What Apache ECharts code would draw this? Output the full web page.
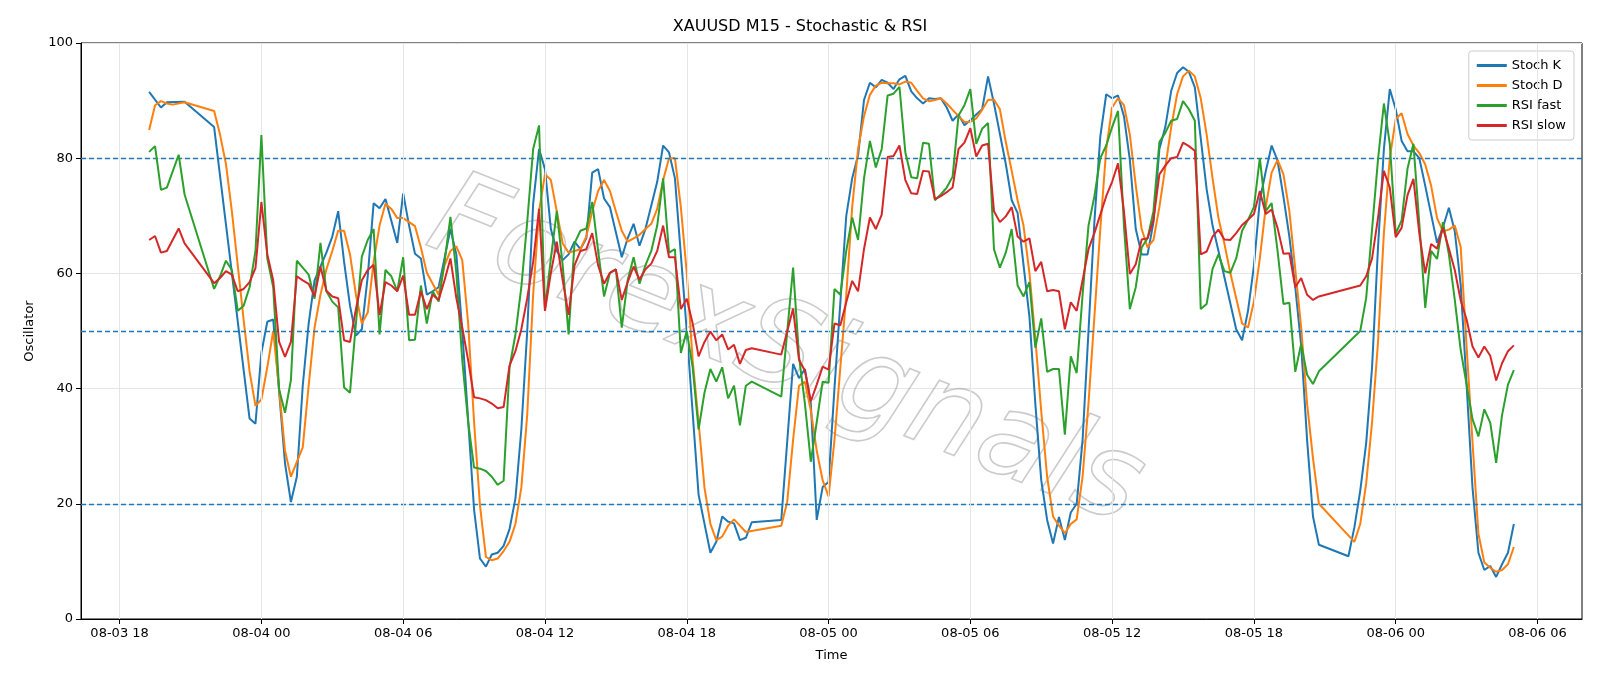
<!DOCTYPE html>
<html><head><meta charset="utf-8">
<script src="https://cdn.jsdelivr.net/npm/echarts@6/dist/echarts.min.js"></script>
<style>html,body{margin:0;padding:0;background:#fff}#c{width:1600px;height:686px}</style>
</head><body><div id="c"></div>
<script>
const YEAR = '2025';
const seriesNames = ['Stoch K','Stoch D','RSI fast','RSI slow'];
const levelLines = [20, 50, 80];
const xTicks = ['08-03 18:00','08-04 00:00','08-04 06:00','08-04 12:00','08-04 18:00','08-05 00:00','08-05 06:00','08-05 12:00','08-05 18:00','08-06 00:00','08-06 06:00'];
const stochK = [
['08-03 19:15',91.5],['08-03 19:45',88.8],['08-03 20:00',89.7],['08-03 20:45',89.8],['08-03 22:00',85.4],['08-03 23:30',34.8],['08-03 23:45',33.9],
['08-04 00:00',46.2],['08-04 00:15',51.6],['08-04 00:30',52],['08-04 01:00',27],['08-04 01:15',20.3],['08-04 01:30',24.7],['08-04 01:45',40.5],['08-04 02:00',51.3],['08-04 02:15',58.8],['08-04 02:45',63.6],['08-04 03:00',66.4],['08-04 03:15',70.8],['08-04 03:30',62],['08-04 03:45',54.4],['08-04 04:00',49.2],['08-04 04:15',50.3],['08-04 04:30',59.5],['08-04 04:45',72.2],['08-04 05:00',71.3],['08-04 05:15',72.9],['08-04 05:45',65.3],['08-04 06:00',73.9],['08-04 06:15',68.3],['08-04 06:30',63.4],['08-04 06:45',62.6],['08-04 07:00',56.3],['08-04 07:15',56.9],['08-04 07:30',57.6],['08-04 08:00',67.7],['08-04 08:15',63.3],['08-04 08:30',50],['08-04 09:00',19],['08-04 09:15',10.5],['08-04 09:30',9.1],['08-04 09:45',11.2],['08-04 10:00',11.5],['08-04 10:15',12.7],['08-04 10:30',15.6],['08-04 10:45',20.9],['08-04 11:00',32.9],['08-04 11:15',50],['08-04 11:30',72.1],['08-04 11:45',81.6],['08-04 12:00',78.1],['08-04 12:15',67.7],['08-04 12:30',63.9],['08-04 12:45',62.3],['08-04 13:00',63.3],['08-04 13:15',65.5],['08-04 13:30',64.2],['08-04 13:45',66.1],['08-04 14:00',77.5],['08-04 14:15',78.1],['08-04 14:30',73],['08-04 14:45',71.5],['08-04 15:15',62.8],['08-04 15:30',66.1],['08-04 15:45',68.6],['08-04 16:00',64.8],['08-04 16:15',67.7],['08-04 16:30',71.8],['08-04 16:45',75.9],['08-04 17:00',82.2],['08-04 17:15',81],['08-04 17:30',76.5],['08-04 18:00',50],['08-04 18:30',21.6],['08-04 19:00',11.5],['08-04 19:15',13.4],['08-04 19:30',17.8],['08-04 19:45',16.9],['08-04 20:00',16.6],['08-04 20:15',13.7],['08-04 20:30',14.1],['08-04 20:45',16.8],['08-04 22:00',17.2],['08-04 22:30',44.3],['08-04 22:45',41.8],['08-04 23:00',43.4],['08-04 23:15',37.4],['08-04 23:30',17.2],['08-04 23:45',22.9],
['08-05 00:00',23.8],['08-05 00:15',40],['08-05 00:30',55],['08-05 00:45',70],['08-05 01:00',76.5],['08-05 01:15',80.5],['08-05 01:30',90.1],['08-05 01:45',93.1],['08-05 02:00',92.3],['08-05 02:15',93.6],['08-05 02:30',93.1],['08-05 02:45',92],['08-05 03:00',93.7],['08-05 03:15',94.3],['08-05 03:30',91.6],['08-05 03:45',90.4],['08-05 04:00',89.5],['08-05 04:15',90.4],['08-05 04:30',90.3],['08-05 04:45',90.4],['08-05 05:00',88.8],['08-05 05:15',86.5],['08-05 05:30',87.6],['08-05 05:45',85.7],['08-05 06:00',86.6],['08-05 06:15',87.6],['08-05 06:30',88.5],['08-05 06:45',94.2],['08-05 07:00',89.5],['08-05 07:30',79],['08-05 07:45',72.7],['08-05 08:00',70.5],['08-05 08:30',52.5],['08-05 08:45',37.4],['08-05 09:00',24.1],['08-05 09:15',17.2],['08-05 09:30',13.1],['08-05 09:45',17.7],['08-05 10:00',13.7],['08-05 10:15',18.5],['08-05 10:30',20],['08-05 10:45',31.1],['08-05 11:00',50],['08-05 11:15',69],['08-05 11:30',83.8],['08-05 11:45',91.1],['08-05 12:00',90.4],['08-05 12:15',90.9],['08-05 12:30',87.3],['08-05 12:45',79.7],['08-05 13:00',67.7],['08-05 13:15',63.3],['08-05 13:30',63.3],['08-05 13:45',68.9],['08-05 14:00',81.6],['08-05 14:15',85.4],['08-05 14:30',91.7],['08-05 14:45',94.8],['08-05 15:00',95.8],['08-05 15:15',95],['08-05 15:30',92.3],['08-05 16:00',74.6],['08-05 16:15',68.3],['08-05 16:30',63.9],['08-05 17:15',50.3],['08-05 17:30',48.4],['08-05 17:45',53.5],['08-05 18:00',61.3],['08-05 18:15',72.7],['08-05 18:30',77.7],['08-05 18:45',82.2],['08-05 19:00',79.6],['08-05 19:15',73.3],['08-05 19:30',66.4],['08-05 19:45',57.6],['08-05 20:00',47.5],['08-05 20:15',31.1],['08-05 20:30',17.8],['08-05 20:45',12.9],['08-05 22:00',10.9],['08-05 22:15',15.9],['08-05 22:30',22.3],['08-05 22:45',30.5],['08-05 23:00',43.7],['08-05 23:15',64.5],['08-05 23:30',81.6],['08-05 23:45',92],
['08-06 00:00',88.5],['08-06 00:15',83],['08-06 00:30',81.2],['08-06 00:45',81.2],['08-06 01:00',80],['08-06 01:15',75.2],['08-06 01:30',70.2],['08-06 01:45',65.3],['08-06 02:00',68],['08-06 02:15',71.4],['08-06 02:30',67.3],['08-06 02:45',58],['08-06 03:00',40.7],['08-06 03:15',22.8],['08-06 03:30',11.5],['08-06 03:45',8.5],['08-06 04:00',9.2],['08-06 04:15',7.3],['08-06 04:30',9.5],['08-06 04:45',11.5],['08-06 05:00',16.5]];
const stochD = [
['08-03 19:15',84.9],['08-03 19:30',89.2],['08-03 19:45',89.9],['08-03 20:00',89.5],['08-03 20:15',89.3],['08-03 20:45',89.7],['08-03 22:00',88.2],['08-03 22:15',84.1],['08-03 22:30',79],['08-03 22:45',70.8],['08-03 23:00',61.4],['08-03 23:15',51.9],['08-03 23:30',43],['08-03 23:45',37],
['08-04 00:00',38.1],['08-04 00:15',43.7],['08-04 00:30',50],['08-04 00:45',39.9],['08-04 01:00',29.2],['08-04 01:15',24.7],['08-04 01:45',29.8],['08-04 02:00',40.5],['08-04 02:15',50.6],['08-04 02:30',56.3],['08-04 02:45',60.7],['08-04 03:00',63.9],['08-04 03:15',67.4],['08-04 03:30',67.4],['08-04 03:45',63.3],['08-04 04:00',56.3],['08-04 04:15',51.3],['08-04 04:30',53.2],['08-04 04:45',62],['08-04 05:00',68.3],['08-04 05:15',72.1],['08-04 05:30',71.2],['08-04 05:45',69.6],['08-04 06:00',69.6],['08-04 06:15',68.9],['08-04 06:30',68.2],['08-04 06:45',64.5],['08-04 07:00',60.1],['08-04 07:15',58.2],['08-04 07:30',56.3],['08-04 07:45',61.4],['08-04 08:00',63.9],['08-04 08:15',64.7],['08-04 08:30',62.3],['08-04 08:45',51.3],['08-04 09:00',34.2],['08-04 09:15',19.7],['08-04 09:30',10.8],['08-04 09:45',10.2],['08-04 10:00',10.5],['08-04 10:15',11.8],['08-04 10:30',13.4],['08-04 10:45',16.5],['08-04 11:00',22.8],['08-04 11:15',35.5],['08-04 11:30',56.3],['08-04 11:45',70.8],['08-04 12:00',77.2],['08-04 12:15',76.2],['08-04 12:30',70.8],['08-04 12:45',65.2],['08-04 13:00',63.6],['08-04 13:15',63.9],['08-04 13:30',64.2],['08-04 13:45',66.4],['08-04 14:00',70.8],['08-04 14:15',74.3],['08-04 14:30',76.2],['08-04 14:45',74.3],['08-04 15:00',70.8],['08-04 15:15',67.4],['08-04 15:30',65.5],['08-04 15:45',66.1],['08-04 16:00',66.7],['08-04 16:15',67.7],['08-04 16:30',68.6],['08-04 16:45',71.2],['08-04 17:00',76.2],['08-04 17:15',80],['08-04 17:30',80],['08-04 17:45',71.5],['08-04 18:00',60.1],['08-04 18:15',44.9],['08-04 18:30',34.2],['08-04 18:45',22.8],['08-04 19:00',16.5],['08-04 19:15',13.7],['08-04 19:30',14.3],['08-04 19:45',16.2],['08-04 20:00',17.3],['08-04 20:15',16.2],['08-04 20:30',15.1],['08-04 22:00',16.2],['08-04 22:15',20.3],['08-04 22:30',31.1],['08-04 22:45',40.5],['08-04 23:00',41.2],['08-04 23:15',36.2],['08-04 23:30',29.2],['08-04 23:45',24.1],
['08-05 00:00',21.3],['08-05 00:15',31],['08-05 00:30',43.7],['08-05 00:45',56.3],['08-05 01:00',71.5],['08-05 01:15',81.6],['08-05 01:30',87.3],['08-05 01:45',91],['08-05 02:00',92.6],['08-05 02:15',93.1],['08-05 02:30',93],['08-05 02:45',93],['08-05 03:00',92.8],['08-05 03:15',93.3],['08-05 03:30',93.1],['08-05 03:45',91.7],['08-05 04:00',90.4],['08-05 04:15',89.9],['08-05 04:30',90.1],['08-05 04:45',90.4],['08-05 05:00',89.5],['08-05 05:15',88.4],['08-05 05:30',87.3],['08-05 05:45',86.3],['08-05 06:00',86.3],['08-05 06:15',86.9],['08-05 06:30',88.4],['08-05 06:45',90.1],['08-05 07:00',90.2],['08-05 07:15',88.5],['08-05 07:30',82.8],['08-05 07:45',77.8],['08-05 08:00',72.7],['08-05 08:15',68.3],['08-05 08:30',60.1],['08-05 08:45',48.7],['08-05 09:00',36.1],['08-05 09:15',24.7],['08-05 09:30',17.8],['08-05 09:45',16.2],['08-05 10:00',14.9],['08-05 10:15',16.5],['08-05 10:30',17.3],['08-05 10:45',24.7],['08-05 11:00',37.4],['08-05 11:15',52.5],['08-05 11:30',67.7],['08-05 11:45',81.6],['08-05 12:00',88.8],['08-05 12:15',90.4],['08-05 12:30',89.2],['08-05 12:45',84.1],['08-05 13:00',75.3],['08-05 13:15',67.7],['08-05 13:30',64.5],['08-05 13:45',65.8],['08-05 14:00',71.5],['08-05 14:15',78.4],['08-05 14:30',85.4],['08-05 14:45',91.1],['08-05 15:00',94.2],['08-05 15:15',95.2],['08-05 15:30',94.2],['08-05 15:45',90.4],['08-05 16:00',84.1],['08-05 16:15',76.5],['08-05 16:30',69.6],['08-05 16:45',65.2],['08-05 17:00',60.1],['08-05 17:15',55.7],['08-05 17:30',51.3],['08-05 17:45',50.6],['08-05 18:00',55.1],['08-05 18:15',62.6],['08-05 18:30',71.5],['08-05 18:45',77.5],['08-05 19:00',79.7],['08-05 19:15',77.2],['08-05 19:30',70.8],['08-05 19:45',60.7],['08-05 20:00',50.6],['08-05 20:15',37.4],['08-05 20:30',27.9],['08-05 20:45',20],['08-05 22:15',13.4],['08-05 22:30',16.5],['08-05 22:45',23.5],['08-05 23:00',34.2],['08-05 23:15',48],['08-05 23:30',67],['08-05 23:45',80],
['08-06 00:00',86.8],['08-06 00:15',87.8],['08-06 00:30',84.2],['08-06 00:45',82.2],['08-06 01:00',80.9],['08-06 01:15',78.9],['08-06 01:30',75.2],['08-06 01:45',69.6],['08-06 02:00',67.3],['08-06 02:15',67.6],['08-06 02:30',68.3],['08-06 02:45',64.6],['08-06 03:00',47.3],['08-06 03:15',30.7],['08-06 03:30',14.8],['08-06 03:45',9.8],['08-06 04:00',8.9],['08-06 04:15',8.2],['08-06 04:30',8.5],['08-06 04:45',9.5],['08-06 05:00',12.5]];
const rsiFast = [
['08-03 19:15',81.1],['08-03 19:30',82.1],['08-03 19:45',74.5],['08-03 20:00',74.9],['08-03 20:30',80.6],['08-03 20:45',73.7],['08-03 22:00',57.3],['08-03 22:15',59.5],['08-03 22:30',62.2],['08-03 22:45',60.6],['08-03 23:00',53.5],['08-03 23:15',54.4],['08-03 23:30',57.6],['08-03 23:45',63.9],
['08-04 00:00',84],['08-04 00:15',62.6],['08-04 00:30',57.6],['08-04 00:45',39.9],['08-04 01:00',35.8],['08-04 01:15',41.5],['08-04 01:30',62.2],['08-04 01:45',61],['08-04 02:00',59.8],['08-04 02:15',55.6],['08-04 02:30',65.3],['08-04 02:45',56.9],['08-04 03:00',55.1],['08-04 03:15',54.1],['08-04 03:30',40.2],['08-04 03:45',39.3],['08-04 04:00',51.3],['08-04 04:15',62.9],['08-04 04:30',65.8],['08-04 04:45',67.7],['08-04 05:00',49.4],['08-04 05:15',60.6],['08-04 05:30',59.5],['08-04 05:45',56.9],['08-04 06:00',62.8],['08-04 06:15',48.4],['08-04 06:30',48.5],['08-04 06:45',57.9],['08-04 07:00',51.3],['08-04 07:15',56.9],['08-04 07:30',55.1],['08-04 07:45',62],['08-04 08:00',69.8],['08-04 08:15',60.1],['08-04 08:30',44.9],['08-04 08:45',34.2],['08-04 09:00',26.3],['08-04 09:15',26.1],['08-04 09:30',25.7],['08-04 09:45',24.7],['08-04 10:00',23.3],['08-04 10:15',24],['08-04 10:30',43.7],['08-04 10:45',49.4],['08-04 11:00',57.6],['08-04 11:15',69],['08-04 11:30',81.6],['08-04 11:45',85.7],['08-04 12:00',53.8],['08-04 12:15',62.6],['08-04 12:30',70.8],['08-04 12:45',61.4],['08-04 13:00',49.4],['08-04 13:15',65.2],['08-04 13:30',67.4],['08-04 13:45',67.8],['08-04 14:00',72.4],['08-04 14:15',63.9],['08-04 14:30',56],['08-04 14:45',60.1],['08-04 15:00',60.7],['08-04 15:15',50.6],['08-04 15:30',58.8],['08-04 15:45',62.8],['08-04 16:00',58.2],['08-04 16:15',61.4],['08-04 16:30',63.9],['08-04 16:45',68.3],['08-04 17:00',76.5],['08-04 17:15',63.6],['08-04 17:30',64.2],['08-04 17:45',46.2],['08-04 18:00',50],['08-04 18:15',43.7],['08-04 18:30',32.9],['08-04 18:45',39.3],['08-04 19:00',43.4],['08-04 19:15',41.2],['08-04 19:30',43.7],['08-04 19:45',38.3],['08-04 20:00',40.5],['08-04 20:15',33.6],['08-04 20:30',40.5],['08-04 20:45',41.2],['08-04 22:00',38.6],['08-04 22:30',61],['08-04 22:45',45.6],['08-04 23:00',37.4],['08-04 23:15',27.3],['08-04 23:30',34.2],['08-04 23:45',41.2],
['08-05 00:00',41],['08-05 00:15',57.3],['08-05 00:30',56.3],['08-05 00:45',63.9],['08-05 01:00',69.7],['08-05 01:15',65.8],['08-05 01:30',76.5],['08-05 01:45',83],['08-05 02:00',78.4],['08-05 02:15',81.6],['08-05 02:30',90.9],['08-05 02:45',91.2],['08-05 03:00',92.4],['08-05 03:15',81],['08-05 03:30',76.7],['08-05 03:45',76.5],['08-05 04:00',82.7],['08-05 04:15',82.5],['08-05 04:30',72.7],['08-05 04:45',73.7],['08-05 05:00',74.9],['08-05 05:15',76.8],['08-05 05:30',87.4],['08-05 05:45',89.2],['08-05 06:00',92],['08-05 06:15',82.5],['08-05 06:30',85.1],['08-05 06:45',86.1],['08-05 07:00',64.2],['08-05 07:15',61],['08-05 07:30',63.6],['08-05 07:45',67.7],['08-05 08:00',57.9],['08-05 08:15',56],['08-05 08:30',58.5],['08-05 08:45',47.1],['08-05 09:00',52.2],['08-05 09:15',42.9],['08-05 09:30',43.4],['08-05 09:45',43.4],['08-05 10:00',32],['08-05 10:15',45.6],['08-05 10:30',42.7],['08-05 10:45',56.3],['08-05 11:00',68.3],['08-05 11:15',73.4],['08-05 11:30',80],['08-05 11:45',82.2],['08-05 12:00',85.4],['08-05 12:15',88.2],['08-05 12:30',68.3],['08-05 12:45',53.8],['08-05 13:00',57.6],['08-05 13:15',64.5],['08-05 13:30',66.1],['08-05 13:45',70.8],['08-05 14:00',82.8],['08-05 14:15',84.4],['08-05 14:30',86.5],['08-05 14:45',86.8],['08-05 15:00',89.9],['08-05 15:15',88.5],['08-05 15:30',86.5],['08-05 15:45',53.8],['08-05 16:00',54.7],['08-05 16:15',60.8],['08-05 16:30',63.3],['08-05 16:45',60.4],['08-05 17:00',60.1],['08-05 17:15',62.6],['08-05 17:30',67.4],['08-05 17:45',69.3],['08-05 18:00',71.5],['08-05 18:15',80],['08-05 18:30',70.8],['08-05 18:45',72.2],['08-05 19:00',63.9],['08-05 19:15',54.7],['08-05 19:30',54.9],['08-05 19:45',42.9],['08-05 20:00',47.8],['08-05 20:15',42.4],['08-05 20:30',40.8],['08-05 20:45',43],['08-05 22:30',50],['08-05 22:45',55.7],['08-05 23:00',67.7],['08-05 23:15',79.7],['08-05 23:30',89.5],['08-05 23:45',82.5],
['08-06 00:00',66.9],['08-06 00:15',69.2],['08-06 00:30',78.2],['08-06 00:45',82.5],['08-06 01:00',68.6],['08-06 01:15',54],['08-06 01:30',63.9],['08-06 01:45',62.5],['08-06 02:00',68.9],['08-06 02:15',63.3],['08-06 02:30',55.4],['08-06 02:45',46.7],['08-06 03:00',40.7],['08-06 03:15',34.7],['08-06 03:30',31.7],['08-06 03:45',36.4],['08-06 04:00',34.1],['08-06 04:15',27.1],['08-06 04:30',35.4],['08-06 04:45',40.7],['08-06 05:00',43.2]];
const rsiSlow = [
['08-03 19:15',65.8],['08-03 19:30',66.5],['08-03 19:45',63.6],['08-03 20:00',63.9],['08-03 20:30',67.8],['08-03 20:45',65.2],['08-03 22:00',58.3],['08-03 22:15',59.2],['08-03 22:30',60.4],['08-03 22:45',59.8],['08-03 23:00',56.9],['08-03 23:15',57.3],['08-03 23:30',58.5],['08-03 23:45',60.9],
['08-04 00:00',72.4],['08-04 00:15',63.3],['08-04 00:30',58.8],['08-04 00:45',48.1],['08-04 01:00',45.5],['08-04 01:15',48.1],['08-04 01:30',59.5],['08-04 01:45',58.8],['08-04 02:00',58.2],['08-04 02:15',56],['08-04 02:30',61.2],['08-04 02:45',57],['08-04 03:00',56],['08-04 03:15',55.7],['08-04 03:30',48.4],['08-04 03:45',48.1],['08-04 04:00',53.8],['08-04 04:15',58.8],['08-04 04:30',60.6],['08-04 04:45',61.5],['08-04 05:00',52.8],['08-04 05:15',58.5],['08-04 05:30',57.9],['08-04 05:45',56.9],['08-04 06:00',59.6],['08-04 06:15',52.8],['08-04 06:30',52.8],['08-04 06:45',56.9],['08-04 07:00',53.8],['08-04 07:15',56.3],['08-04 07:30',55.4],['08-04 07:45',58.8],['08-04 08:00',62.6],['08-04 08:15',55.7],['08-04 08:30',50.6],['08-04 08:45',44.9],['08-04 09:00',38.5],['08-04 09:15',38.3],['08-04 09:30',38],['08-04 09:45',37.4],['08-04 10:00',36.6],['08-04 10:15',36.8],['08-04 10:30',44],['08-04 10:45',46.5],['08-04 11:00',50.3],['08-04 11:15',55.7],['08-04 11:30',62],['08-04 11:45',71.2],['08-04 12:00',53.5],['08-04 12:15',60.1],['08-04 12:30',65.5],['08-04 12:45',58.8],['08-04 13:00',52.8],['08-04 13:15',61.4],['08-04 13:30',63.9],['08-04 13:45',64.2],['08-04 14:00',67],['08-04 14:15',61.4],['08-04 14:30',58.2],['08-04 14:45',60.1],['08-04 15:00',60.7],['08-04 15:15',55.4],['08-04 15:30',58.5],['08-04 15:45',61.2],['08-04 16:00',58.9],['08-04 16:15',60.7],['08-04 16:30',61.7],['08-04 16:45',63.9],['08-04 17:00',68.3],['08-04 17:15',62.8],['08-04 17:30',62.8],['08-04 17:45',53.8],['08-04 18:00',55.6],['08-04 18:15',51.3],['08-04 18:30',45.6],['08-04 18:45',48.1],['08-04 19:00',49.9],['08-04 19:15',48.4],['08-04 19:30',49.4],['08-04 19:45',46.8],['08-04 20:00',47.6],['08-04 20:15',44.3],['08-04 20:30',46.7],['08-04 20:45',47],['08-04 22:00',45.9],['08-04 22:30',53.9],['08-04 22:45',45],['08-04 23:00',43.1],['08-04 23:15',37.8],['08-04 23:30',40.7],['08-04 23:45',43.8],
['08-05 00:00',43.3],['08-05 00:15',51.3],['08-05 00:30',51],['08-05 00:45',55],['08-05 01:00',58.7],['08-05 01:15',56.9],['08-05 01:30',64.2],['08-05 01:45',69.7],['08-05 02:00',67.7],['08-05 02:15',70.2],['08-05 02:30',80.2],['08-05 02:45',80.4],['08-05 03:00',82.2],['08-05 03:15',76.2],['08-05 03:30',73.9],['08-05 03:45',73.8],['08-05 04:00',77.8],['08-05 04:15',77.7],['08-05 04:30',72.9],['08-05 04:45',73.4],['08-05 05:00',74.1],['08-05 05:15',74.9],['08-05 05:30',81.6],['08-05 05:45',82.7],['08-05 06:00',85.2],['08-05 06:15',80.3],['08-05 06:30',82.2],['08-05 06:45',82.5],['08-05 07:00',70.8],['08-05 07:15',68.9],['08-05 07:30',69.9],['08-05 07:45',71.5],['08-05 08:00',66.4],['08-05 08:15',65.5],['08-05 08:30',66.1],['08-05 08:45',60.4],['08-05 09:00',62],['08-05 09:15',56.9],['08-05 09:30',57.1],['08-05 09:45',56.9],['08-05 10:00',50.3],['08-05 10:15',55],['08-05 10:30',53.5],['08-05 10:45',58.8],['08-05 11:00',64.2],['08-05 11:15',67],['08-05 11:30',70.2],['08-05 11:45',73.4],['08-05 12:00',75.9],['08-05 12:15',79.1],['08-05 12:30',70.8],['08-05 12:45',59.9],['08-05 13:00',61.6],['08-05 13:15',65.9],['08-05 13:30',66.1],['08-05 13:45',69.3],['08-05 14:00',77.2],['08-05 14:15',78.7],['08-05 14:30',80],['08-05 14:45',80.2],['08-05 15:00',82.7],['08-05 15:15',82.1],['08-05 15:30',81.3],['08-05 15:45',63.3],['08-05 16:00',63.8],['08-05 16:15',66.4],['08-05 16:30',67.6],['08-05 16:45',65.9],['08-05 17:00',65.8],['08-05 17:15',67],['08-05 17:30',68.4],['08-05 17:45',69.3],['08-05 18:00',70.3],['08-05 18:15',74.3],['08-05 18:30',70.3],['08-05 18:45',71.1],['08-05 19:00',67.9],['08-05 19:15',63.4],['08-05 19:30',63.5],['08-05 19:45',57.6],['08-05 20:00',59.2],['08-05 20:15',56.3],['08-05 20:30',55.4],['08-05 20:45',56],['08-05 22:30',57.9],['08-05 22:45',59.5],['08-05 23:00',62.6],['08-05 23:15',69.6],['08-05 23:30',77.8],['08-05 23:45',74.9],
['08-06 00:00',66.3],['08-06 00:15',67.9],['08-06 00:30',73.6],['08-06 00:45',76.4],['08-06 01:00',66.9],['08-06 01:15',60],['08-06 01:30',65.1],['08-06 01:45',64.3],['08-06 02:00',67.9],['08-06 02:15',64.3],['08-06 02:30',60.6],['08-06 02:45',55.3],['08-06 03:00',52],['08-06 03:15',47.3],['08-06 03:30',45.4],['08-06 03:45',47.3],['08-06 04:00',45.7],['08-06 04:15',41.4],['08-06 04:30',44.4],['08-06 04:45',46.5],['08-06 05:00',47.5]];

function ts(s){ return new Date(YEAR+'-'+s.slice(0,5)+'T'+s.slice(6)+':00').getTime(); }
function conv(a){ return a.map(p=>[ts(p[0]),p[1]]); }
const colors=['#1f77b4','#ff7f0e','#2ca02c','#d62728'];
const allData=[stochK,stochD,rsiFast,rsiSlow];
const tickVals=xTicks.map(ts);
const chart=echarts.init(document.getElementById('c'));
const series=allData.map((d,i)=>({
  name:seriesNames[i],type:'line',data:conv(d),showSymbol:false,symbol:'none',
  lineStyle:{width:2,color:colors[i]},itemStyle:{color:colors[i]},z:3+i,
  markLine: i===0?{silent:true,symbol:'none',label:{show:false},
    lineStyle:{type:[5,3],color:'#1f77b4',width:1.3},data:levelLines.map(v=>({yAxis:v}))}:undefined
}));
function pad(n){return (n<10?'0':'')+n;}
chart.setOption({
  animation:false,
  textStyle:{fontFamily:'DejaVu Sans'},
  title:{text:'XAUUSD M15 - Stochastic & RSI',left:'center',top:14,textStyle:{fontSize:16,fontWeight:'normal',color:'#000'}},
  grid:{left:81,right:18,top:43,bottom:67,show:true,borderColor:'#000',borderWidth:1,backgroundColor:'transparent'},
  legend:{orient:'vertical',right:26,top:51,data:seriesNames,itemWidth:30,itemHeight:3,itemGap:7,
    backgroundColor:'#fff',borderColor:'#ccc',borderWidth:1,borderRadius:3,padding:[8,8,8,8],
    textStyle:{fontSize:13,color:'#000'},icon:'rect'},
  xAxis:{type:'value',min:ts('08-03 16:22'),max:ts('08-06 07:53'),scale:true,
    name:'Time',nameLocation:'middle',nameGap:30,nameTextStyle:{fontSize:13,color:'#000'},
    axisLine:{lineStyle:{color:'#000'}},
    axisTick:{show:true,customValues:tickVals,lineStyle:{color:'#000'}},
    axisLabel:{customValues:tickVals,color:'#000',fontSize:13,showMinLabel:true,showMaxLabel:true,
      formatter:v=>{const d=new Date(v);return pad(d.getMonth()+1)+'-'+pad(d.getDate())+' '+pad(d.getHours());}},
    splitLine:{show:false}},
  yAxis:{type:'value',min:0,max:100,interval:20,name:'Oscillator',nameLocation:'middle',nameGap:45,
    nameTextStyle:{fontSize:13,color:'#000'},
    axisLine:{show:true,lineStyle:{color:'#000'}},axisTick:{show:true,lineStyle:{color:'#000'}},
    axisLabel:{color:'#000',fontSize:13},splitLine:{show:true,lineStyle:{color:'#e5e5e5'}}},
  graphic:[{type:'text',x:785,y:355,rotation:-0.38,z:1,silent:true,
    style:{text:'ForexSignals',font:'italic 118px "DejaVu Sans"',fill:'rgba(255,255,255,0)',
      stroke:'rgba(160,160,160,0.55)',lineWidth:1.6,textAlign:'center',textVerticalAlign:'middle'}}],
  series:[...series,{type:'line',data:[],markLine:{silent:true,symbol:'none',label:{show:false},
    lineStyle:{type:'solid',color:'#e5e5e5',width:1},data:tickVals.map(v=>({xAxis:v}))},z:1}]
});
</script></body></html>
